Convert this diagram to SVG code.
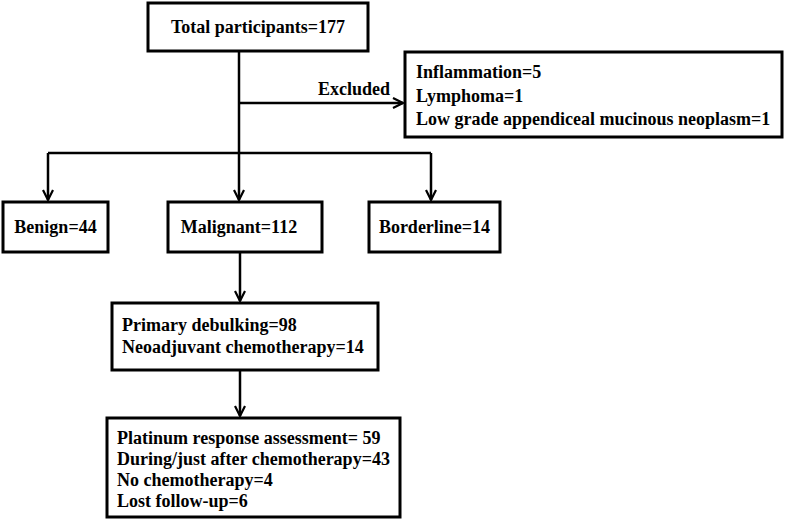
<svg xmlns="http://www.w3.org/2000/svg" width="786" height="521" viewBox="0 0 786 521">
<style>
.box{fill:#fff;stroke:#000;stroke-width:3}
.t{font-family:"Liberation Serif","Times New Roman",serif;font-weight:bold;font-size:18px;fill:#000}
.c{text-anchor:middle}
.ln{fill:none;stroke:#000;stroke-width:2.5}
</style>
<defs>
<marker id="ah" viewBox="0 0 12 12" refX="11" refY="6" markerWidth="12" markerHeight="12" markerUnits="userSpaceOnUse" orient="auto">
<path d="M1,1 L11,6 L1,11" fill="none" stroke="#000" stroke-width="2.2"/>
</marker>
</defs>
<rect width="786" height="521" fill="#fff"/>
<g id="connectors">
<path class="ln" d="M239,51 V200" marker-end="url(#ah)"/>
<path class="ln" d="M239,103 H403" marker-end="url(#ah)"/>
<path class="ln" d="M48,153 H431"/>
<path class="ln" d="M48,153 V200" marker-end="url(#ah)"/>
<path class="ln" d="M431,153 V200" marker-end="url(#ah)"/>
<path class="ln" d="M240,252 V301" marker-end="url(#ah)"/>
<path class="ln" d="M240,370 V416" marker-end="url(#ah)"/>
<text class="t" x="354" y="95" text-anchor="middle">Excluded</text>
</g>
<g id="total"><rect class="box" x="148" y="3" width="220" height="48"/><text class="t c" x="258" y="33">Total participants=177</text></g>
<g id="excluded"><rect class="box" x="405" y="52" width="377" height="85"/>
<text class="t" x="416" y="78">Inflammation=5</text>
<text class="t" x="416" y="102">Lymphoma=1</text>
<text class="t" x="416" y="125">Low grade appendiceal mucinous neoplasm=1</text></g>
<g id="benign"><rect class="box" x="3" y="202" width="105" height="50"/><text class="t c" x="55.5" y="233">Benign=44</text></g>
<g id="malignant"><rect class="box" x="168" y="202" width="154" height="50"/><text class="t c" x="239" y="233">Malignant=112</text></g>
<g id="borderline"><rect class="box" x="369" y="202" width="131" height="50"/><text class="t c" x="434.5" y="233">Borderline=14</text></g>
<g id="treatment"><rect class="box" x="112" y="303" width="266" height="67"/>
<text class="t" x="122" y="331">Primary debulking=98</text>
<text class="t" x="122" y="353">Neoadjuvant chemotherapy=14</text></g>
<g id="outcome"><rect class="box" x="107" y="418" width="293" height="99"/>
<text class="t" x="117" y="444">Platinum response assessment= 59</text>
<text class="t" x="117" y="465">During/just after chemotherapy=43</text>
<text class="t" x="117" y="486">No chemotherapy=4</text>
<text class="t" x="117" y="507">Lost follow-up=6</text></g>
</svg>
